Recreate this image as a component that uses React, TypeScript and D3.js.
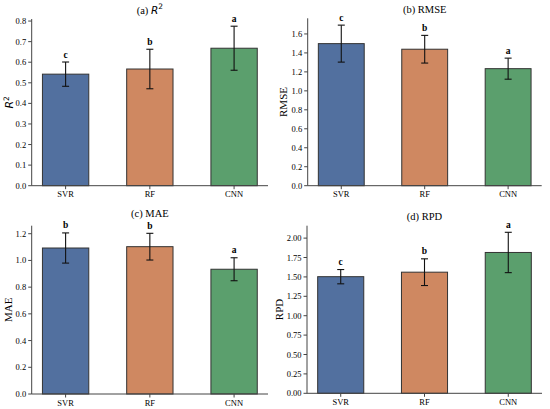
import * as d3 from "d3";

const models = ["SVR", "RF", "CNN"];
const colors = ["#52709f", "#cf8861", "#5b9f6d"];

const r2Mean = [0.542, 0.567, 0.668];
const r2Err = [0.059, 0.096, 0.107];
const r2Letters = ["c", "b", "a"];

const rmseMean = [1.498, 1.439, 1.234];
const rmseErr = [0.195, 0.146, 0.111];
const rmseLetters = ["c", "b", "a"];

const maeMean = [1.093, 1.103, 0.934];
const maeErr = [0.113, 0.1, 0.086];
const maeLetters = ["b", "b", "a"];

const rpdMean = [1.503, 1.561, 1.815];
const rpdErr = [0.092, 0.172, 0.26];
const rpdLetters = ["c", "b", "a"];

const serif = "'Liberation Serif', 'Times New Roman', serif";
const axisColor = "#444";

function Panel({ left, right, top, bottom, yMax, ticks, fmt, mean, err, letters, title, ylabel, ylabelX, titleGap = 5.5 }) {
  const x = d3.scaleLinear([-0.4025, 2.4025], [left, right]);
  const y = d3.scaleLinear([0, yMax], [bottom, top]);
  const bw = x(0.55) - x(0);
  const cap = 3.5;
  return (
    <g>
      <text x={(left + right) / 2} y={top - titleGap} textAnchor="middle" fontFamily={serif} fontSize="10.5">
        {title}
      </text>
      {mean.map((m, i) => (
        <g key={i}>
          <rect
            x={x(i) - bw / 2}
            y={y(m)}
            width={bw}
            height={y(0) - y(m)}
            fill={colors[i]}
            stroke="#333"
            strokeWidth="1"
          />
          <g stroke="#111" strokeWidth="1.1">
            <line x1={x(i)} x2={x(i)} y1={y(m - err[i])} y2={y(m + err[i])} />
            <line x1={x(i) - cap} x2={x(i) + cap} y1={y(m + err[i])} y2={y(m + err[i])} />
            <line x1={x(i) - cap} x2={x(i) + cap} y1={y(m - err[i])} y2={y(m - err[i])} />
          </g>
          <text
            x={x(i)}
            y={y(m + err[i]) - 4.5}
            textAnchor="middle"
            fontFamily={serif}
            fontWeight="bold"
            fontSize="9.5"
          >
            {letters[i]}
          </text>
          <line x1={x(i)} x2={x(i)} y1={bottom} y2={bottom + 3.5} stroke={axisColor} />
          <text x={x(i)} y={bottom + 11.5} textAnchor="middle" fontFamily={serif} fontSize="8.5">
            {models[i]}
          </text>
        </g>
      ))}
      <line x1={left} x2={left} y1={top} y2={bottom} stroke={axisColor} strokeWidth="1" />
      <line x1={left} x2={right} y1={bottom} y2={bottom} stroke={axisColor} strokeWidth="1" />
      {ticks.map((t) => (
        <g key={t}>
          <line x1={left - 3.5} x2={left} y1={y(t)} y2={y(t)} stroke={axisColor} />
          <text x={left - 5.5} y={y(t) + 3} textAnchor="end" fontFamily={serif} fontSize="8.5">
            {d3.format(fmt)(t)}
          </text>
        </g>
      ))}
      <text
        transform={`translate(${ylabelX},${(top + bottom) / 2}) rotate(-90)`}
        textAnchor="middle"
        fontFamily={serif}
        fontSize="11"
      >
        {ylabel}
      </text>
    </g>
  );
}

const r2Label = (
  <>
    <tspan fontFamily="'DejaVu Sans', sans-serif" fontStyle="italic">R</tspan>
    <tspan fontFamily="'DejaVu Sans', sans-serif" fontSize="7.5" dy="-4.5">2</tspan>
  </>
);

export default function App() {
  return (
    <svg width={550} height={409} style={{ position: "absolute", left: 0, top: 0 }}>
      <rect width={550} height={409} fill="white" />
      <Panel
        left={31.7} right={268} top={19} bottom={185.7} yMax={0.81}
        ticks={d3.range(0, 0.81, 0.1)} fmt=".1f"
        mean={r2Mean} err={r2Err} letters={r2Letters}
        title={<>(a) {r2Label}</>} ylabel={r2Label} ylabelX={13}
      />
      <Panel
        left={307.7} right={541.7} top={18.3} bottom={185.7} yMax={1.765}
        ticks={d3.range(0, 1.61, 0.2)} fmt=".1f"
        mean={rmseMean} err={rmseErr} letters={rmseLetters}
        title="(b) RMSE" ylabel="RMSE" ylabelX={287}
      />
      <Panel
        left={31.7} right={268} top={225.7} bottom={394} yMax={1.26}
        ticks={d3.range(0, 1.21, 0.2)} fmt=".1f"
        mean={maeMean} err={maeErr} letters={maeLetters}
        title="(c) MAE" ylabel="MAE" ylabelX={12} titleGap={8.5}
      />
      <Panel
        left={307} right={542} top={225.7} bottom={393.3} yMax={2.16}
        ticks={d3.range(0, 2.01, 0.25)} fmt=".2f"
        mean={rpdMean} err={rpdErr} letters={rpdLetters}
        title="(d) RPD" ylabel="RPD" ylabelX={283}
      />
    </svg>
  );
}
